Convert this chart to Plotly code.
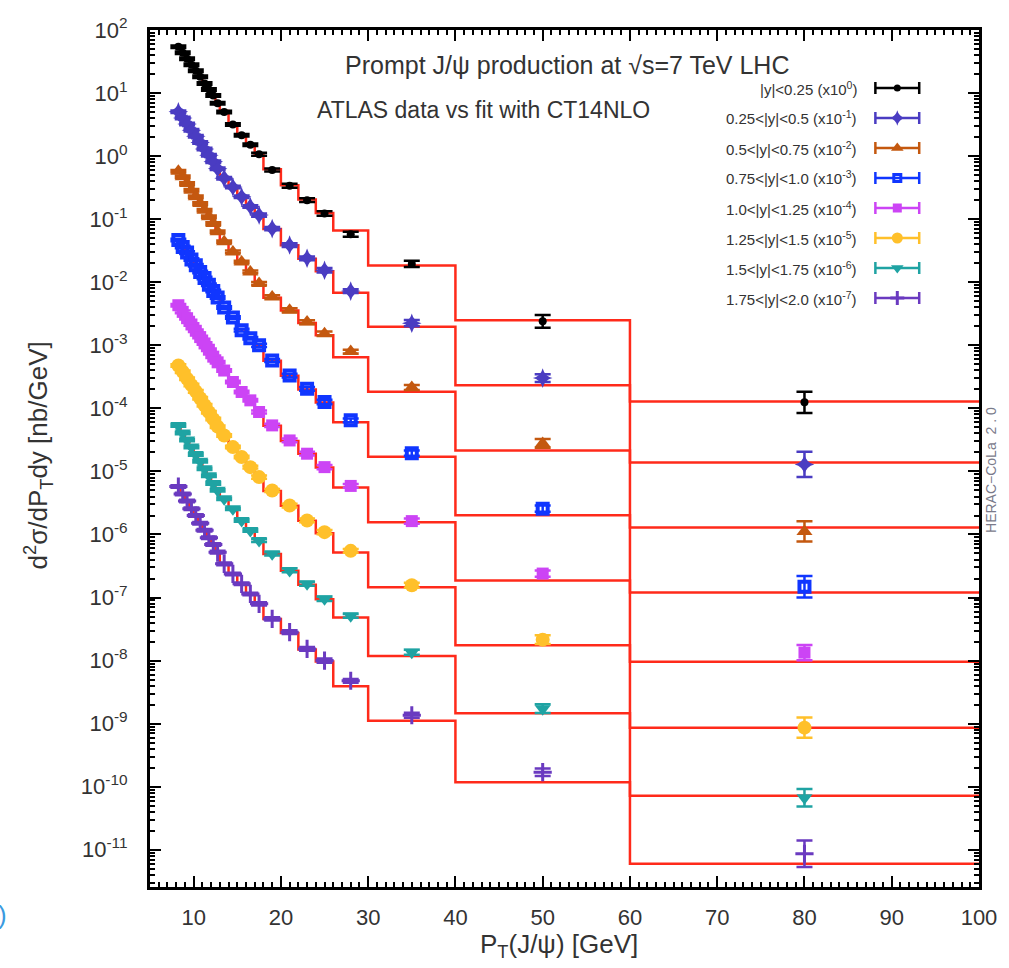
import plotly.graph_objects as go

# ---------------- data ----------------
pt_edges = [8, 8.5, 9, 9.5, 10, 10.5, 11, 11.5, 12, 12.5, 13, 14, 15, 16, 17, 18,
            20, 22, 24, 26, 30, 40, 60, 100]
pt_centers = [8.25, 8.75, 9.25, 9.75, 10.25, 10.75, 11.25, 11.75, 12.25, 12.75,
              13.5, 14.5, 15.5, 16.5, 17.5, 19, 21, 23, 25, 28, 35, 50, 80]

rap_labels = ["|y|&lt;0.25 (x10<sup>0</sup>)",
              "0.25&lt;|y|&lt;0.5 (x10<sup>-1</sup>)",
              "0.5&lt;|y|&lt;0.75 (x10<sup>-2</sup>)",
              "0.75&lt;|y|&lt;1.0 (x10<sup>-3</sup>)",
              "1.0&lt;|y|&lt;1.25 (x10<sup>-4</sup>)",
              "1.25&lt;|y|&lt;1.5 (x10<sup>-5</sup>)",
              "1.5&lt;|y|&lt;1.75 (x10<sup>-6</sup>)",
              "1.75&lt;|y|&lt;2.0 (x10<sup>-7</sup>)"]
scale_exp = [0, -1, -2, -3, -4, -5, -6, -7]

# measured d2sigma/dpT dy [nb/GeV] (unscaled)
data_y0 = [54.3, 43.7, 35.1, 28.2, 22.6, 18.2, 14.2, 11.4, 9.18, 6.92, 5.01, 3.16, 2.14,
           1.51, 1.07, 0.603, 0.339, 0.200, 0.123, 0.0575, 0.0195, 0.0024, 1.245e-4]
data_y1 = [50.6, 40.3, 32.4, 25.7, 20.7, 16.4, 13.0, 10.35, 8.13, 6.31, 4.47, 3.24, 2.26,
           1.585, 1.16, 0.708, 0.389, 0.240, 0.155, 0.0724, 0.0224, 0.00302, 1.29e-4]
data_y2 = [57.5, 47.0, 36.8, 28.8, 22.6, 17.7, 13.9, 10.9, 8.53, 6.31, 4.37, 3.03, 2.10,
           1.46, 0.955, 0.585, 0.360, 0.234, 0.153, 0.0794, 0.0215, 0.00278, 1.12e-4]
data_y3 = [46.8, 36.3, 29.5, 22.9, 18.6, 14.5, 11.7, 9.12, 7.24, 5.75, 3.98, 2.75, 1.74,
           1.29, 1.00, 0.575, 0.331, 0.204, 0.126, 0.0646, 0.0195, 0.00257, 1.48e-4]
data_y4 = [43.2, 33.9, 26.9, 21.4, 17.0, 13.5, 10.7, 8.51, 6.61, 5.37, 3.98, 2.62, 1.82,
           1.34, 0.875, 0.537, 0.310, 0.191, 0.117, 0.0589, 0.0163, 0.0024, 1.34e-4]
data_y5 = [47.9, 38.0, 29.5, 23.4, 18.6, 14.5, 11.2, 8.71, 6.76, 5.13, 3.72, 2.43, 1.69,
           1.17, 0.813, 0.499, 0.288, 0.167, 0.109, 0.055, 0.0157, 0.00215, 8.65e-5]
data_y6 = [53.7, 40.7, 31.6, 24.5, 18.6, 14.5, 11.0, 8.51, 6.46, 5.01, 3.68, 2.55, 1.67,
           1.16, 0.804, 0.493, 0.269, 0.165, 0.0953, 0.0513, 0.0136, 0.00173, 6.68e-5]
data_y7 = [57.5, 43.7, 33.9, 25.7, 20.0, 15.1, 11.7, 8.91, 6.92, 5.25, 3.42, 2.37, 1.65,
           1.14, 0.794, 0.458, 0.282, 0.153, 0.100, 0.0479, 0.0136, 0.0017, 8.65e-5]

# CT14NLO fit, one value per pT bin (unscaled)
fit_y0 = [52.0, 43.0, 35.5, 28.5, 23.0, 18.5, 14.6, 11.6, 9.3, 7.2, 5.2, 3.25, 2.15,
          1.50, 1.06, 0.62, 0.345, 0.205, 0.125, 0.0662, 0.0184, 0.00249, 1.29e-4]
fit_y1 = [49.5, 40.0, 32.0, 25.8, 20.5, 16.5, 13.1, 10.4, 8.2, 6.4, 4.55, 3.2, 2.25,
          1.6, 1.15, 0.70, 0.385, 0.235, 0.150, 0.0681, 0.0197, 0.00232, 1.39e-4]
fit_y2 = [56.0, 46.0, 36.5, 28.7, 22.5, 17.8, 13.8, 10.9, 8.5, 6.3, 4.4, 3.0, 2.08,
          1.45, 0.95, 0.57, 0.355, 0.225, 0.145, 0.0646, 0.0183, 0.00215, 1.29e-4]
fit_y3 = [45.5, 36.0, 29.0, 23.0, 18.4, 14.6, 11.6, 9.1, 7.2, 5.7, 4.0, 2.72, 1.78,
          1.27, 0.98, 0.57, 0.33, 0.20, 0.124, 0.060, 0.0171, 0.00202, 1.20e-4]
fit_y4 = [42.0, 33.5, 26.8, 21.2, 17.0, 13.4, 10.7, 8.5, 6.6, 5.3, 3.95, 2.6, 1.80,
          1.32, 0.87, 0.53, 0.305, 0.19, 0.115, 0.0557, 0.0157, 0.00187, 9.6e-5]
fit_y5 = [47.0, 37.5, 29.5, 23.4, 18.5, 14.4, 11.2, 8.7, 6.75, 5.15, 3.7, 2.45, 1.68,
          1.16, 0.80, 0.49, 0.285, 0.165, 0.105, 0.0518, 0.01456, 0.00175, 8.65e-5]
fit_y6 = [52.0, 40.5, 31.5, 24.5, 18.7, 14.4, 11.0, 8.5, 6.5, 5.0, 3.65, 2.5, 1.65,
          1.15, 0.79, 0.49, 0.265, 0.16, 0.094, 0.0482, 0.0118, 0.00146, 7.2e-5]
fit_y7 = [56.0, 43.0, 33.5, 25.5, 20.0, 15.2, 11.6, 8.9, 6.9, 5.2, 3.4, 2.35, 1.63,
          1.13, 0.79, 0.455, 0.275, 0.150, 0.097, 0.0393, 0.01117, 0.00118, 6.0e-5]

# uncertainties in decades (log10 half-width)
err_low = [0.02, 0.02, 0.02, 0.02, 0.02, 0.02, 0.02, 0.02, 0.02, 0.02, 0.02, 0.02,
           0.02, 0.02, 0.025, 0.025, 0.03, 0.03, 0.035]
err_hi_y0 = [0.04, 0.05, 0.10, 0.17]
err_hi_y1 = [0.03, 0.05, 0.06, 0.20]
err_hi_y2 = [0.03, 0.04, 0.07, 0.16]
err_hi_y3 = [0.03, 0.04, 0.05, 0.17]
err_hi_y4 = [0.03, 0.04, 0.05, 0.12]
err_hi_y5 = [0.03, 0.04, 0.07, 0.16]
err_hi_y6 = [0.03, 0.04, 0.07, 0.14]
err_hi_y7 = [0.03, 0.04, 0.06, 0.21]

y_tick_exps = [2, 1, 0, -1, -2, -3, -4, -5, -6, -7, -8, -9, -10, -11]
x_ticks = [10, 20, 30, 40, 50, 60, 70, 80, 90, 100]

data_all = [data_y0, data_y1, data_y2, data_y3, data_y4, data_y5, data_y6, data_y7]
fit_all = [fit_y0, fit_y1, fit_y2, fit_y3, fit_y4, fit_y5, fit_y6, fit_y7]
err_hi_all = [err_hi_y0, err_hi_y1, err_hi_y2, err_hi_y3, err_hi_y4, err_hi_y5,
              err_hi_y6, err_hi_y7]

# ---------------- styles ----------------
colors = ["#000000", "#4a3cc2", "#c4580f", "#1036ff", "#cc44f5", "#ffc02a",
          "#1fa3a3", "#6a3ac0"]
symbols = ["circle", "star-diamond", "triangle-up", "square-open", "square",
           "circle", "triangle-down", "cross-thin-open"]
sizes = [8, 14, 14, 10, 12, 14, 14, 13]
line_w = [0, 0, 0, 4, 0, 0, 0, 3]
FIT_COLOR = "#ff2a1a"
FONT = "Liberation Sans"
TXT = "#333333"

W, H = 1009, 968
L, R, T, B = 150, 982, 30, 887


def px(xp):
    return (xp - L) / (R - L)


def py(yp):
    return (B - yp) / (B - T)


fig = go.Figure()

# fit step lines
for i in range(8):
    s = 10.0 ** scale_exp[i]
    fy = [v * s for v in fit_all[i]]
    fig.add_trace(go.Scatter(
        x=pt_edges, y=fy + [fy[-1]], mode="lines", line_shape="hv",
        line=dict(color=FIT_COLOR, width=2.5), showlegend=False, hoverinfo="skip"))

# data points
for i in range(8):
    s = 10.0 ** scale_exp[i]
    yv = [v * s for v in data_all[i]]
    dex = err_low + err_hi_all[i]
    up = [y * (10 ** d - 1) for y, d in zip(yv, dex)]
    dn = [y * (1 - 10 ** (-d)) for y, d in zip(yv, dex)]
    fig.add_trace(go.Scatter(
        x=pt_centers, y=yv, mode="markers",
        marker=dict(symbol=symbols[i], size=sizes[i], color=colors[i],
                    line=dict(color=colors[i], width=line_w[i])),
        error_y=dict(type="data", symmetric=False, array=up, arrayminus=dn,
                     color=colors[i], thickness=2.5, width=8),
        showlegend=False, hoverinfo="skip"))

# manual gnuplot-style key (text left of the sample)
key_rows = [88, 118, 148, 178, 208, 238, 268, 298]
shapes = []
annotations = []
for i, yr in enumerate(key_rows):
    annotations.append(dict(
        x=px(862), y=py(yr), xref="paper", yref="paper", xanchor="right",
        yanchor="middle", text=rap_labels[i], showarrow=False,
        font=dict(family=FONT, size=15, color=TXT)))
    shapes.append(dict(type="line", xref="paper", yref="paper",
                       x0=px(878), x1=px(922), y0=py(yr), y1=py(yr),
                       line=dict(color=colors[i], width=2.5)))
    for xe in (878, 922):
        shapes.append(dict(type="line", xref="paper", yref="paper",
                           x0=px(xe), x1=px(xe), y0=py(yr - 6), y1=py(yr + 6),
                           line=dict(color=colors[i], width=2.5)))
    fig.add_trace(go.Scatter(
        x=[px(900)], y=[py(yr)], xaxis="x2", yaxis="y2", mode="markers",
        marker=dict(symbol=symbols[i], size=max(sizes[i] - 3, 7), color=colors[i],
                    line=dict(color=colors[i], width=min(line_w[i], 3))),
        showlegend=False, hoverinfo="skip"))

annotations += [
    dict(x=px(569), y=py(65), xref="paper", yref="paper", showarrow=False,
         xanchor="center", yanchor="middle",
         text="Prompt J/ψ production at √s=7 TeV LHC",
         font=dict(family=FONT, size=25, color=TXT)),
    dict(x=px(485), y=py(110), xref="paper", yref="paper", showarrow=False,
         xanchor="center", yanchor="middle",
         text="ATLAS data vs fit with CT14NLO",
         font=dict(family=FONT, size=23, color=TXT)),
    dict(x=px(560), y=py(945), xref="paper", yref="paper", showarrow=False,
         xanchor="center", yanchor="middle",
         text="P<sub>T</sub>(J/ψ) [GeV]",
         font=dict(family=FONT, size=26, color=TXT)),
    dict(x=px(38), y=py(455), xref="paper", yref="paper", showarrow=False,
         xanchor="center", yanchor="middle",
         textangle=-90, text="d<sup>2</sup>σ/dP<sub>T</sub>dy [nb/GeV]",
         font=dict(family=FONT, size=26, color=TXT)),
    dict(x=px(994), y=py(470), xref="paper", yref="paper", showarrow=False,
         xanchor="center", yanchor="middle",
         textangle=-90, text="HERAC−CoLa  2 . 0",
         font=dict(family=FONT, size=14, color="#7a7a8a")),
    dict(x=px(2), y=py(915), xref="paper", yref="paper", showarrow=False,
         xanchor="center", yanchor="middle", text=")",
         font=dict(family=FONT, size=26, color="#3a9ae0")),
]

fig.update_layout(
    width=W, height=H, autosize=False,
    margin=dict(l=L, r=W - R, t=T, b=H - B, pad=0),
    paper_bgcolor="white", plot_bgcolor="white",
    font=dict(family=FONT, color=TXT),
    showlegend=False,
    xaxis=dict(range=[5, 100], tickvals=x_ticks, ticktext=[str(v) for v in x_ticks],
               ticks="inside", ticklen=11, tickwidth=2, tickcolor="black",
               minor=dict(dtick=1, tick0=0, ticks="inside", ticklen=5, tickwidth=1.5,
                          tickcolor="black", showgrid=False),
               showline=True, linewidth=3, linecolor="black", mirror="allticks",
               showgrid=False, zeroline=False, ticklabelstandoff=9,
               tickfont=dict(family=FONT, size=22, color=TXT)),
    yaxis=dict(type="log", range=[-11.59, 2.0],
               tickvals=[10.0 ** e for e in y_tick_exps],
               ticktext=["10<sup>%d</sup>" % e for e in y_tick_exps],
               ticks="inside", ticklen=11, tickwidth=2, tickcolor="black",
               minor=dict(dtick="D1", ticks="inside", ticklen=5, tickwidth=1.5,
                          tickcolor="black", showgrid=False),
               showline=True, linewidth=3, linecolor="black", mirror="allticks",
               showgrid=False, zeroline=False, ticklabelstandoff=15,
               tickfont=dict(family=FONT, size=22, color=TXT)),
    xaxis2=dict(overlaying="x", range=[0, 1], visible=False),
    yaxis2=dict(overlaying="y", range=[0, 1], visible=False),
    shapes=shapes, annotations=annotations,
)

fig.write_html("out.html")
